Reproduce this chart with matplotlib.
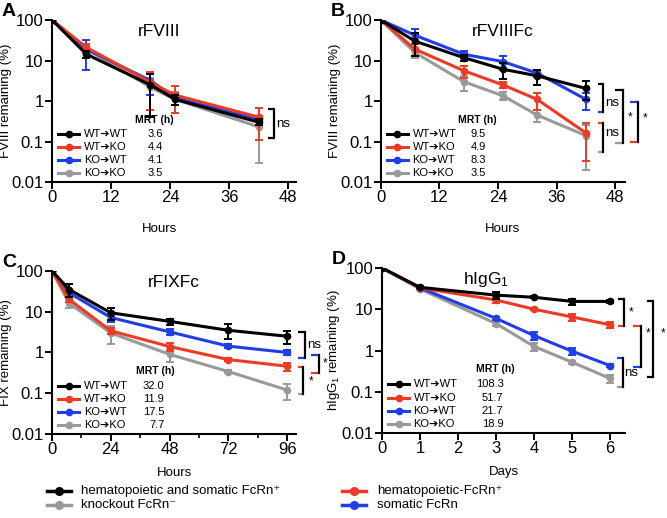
import numpy as np
import matplotlib
matplotlib.use("Agg")
import matplotlib.pyplot as plt
from matplotlib.ticker import FixedLocator, NullLocator

plt.rcParams['font.family'] = ['Liberation Sans', 'DejaVu Sans']
plt.rcParams['mathtext.fontset'] = 'custom'
plt.rcParams['mathtext.rm'] = 'Liberation Sans'
plt.rcParams['mathtext.it'] = 'Liberation Sans:italic'
plt.rcParams['mathtext.bf'] = 'Liberation Sans:bold'

BLACK = '#000000'
RED = '#ee3a24'
BLUE = '#1f3ee6'
GRAY = '#999999'

groups = ['WT\u2794WT', 'WT\u2794KO', 'KO\u2794WT', 'KO\u2794KO']
colors = [BLACK, RED, BLUE, GRAY]

# panel A - rFVIII
a_t = [0, 7, 20, 25, 42]
a_y = [[100, 14.3, 2.5, 1.1, 0.30],
       [100, 21, 2.9, 1.4, 0.40],
       [100, 19, 3.2, 1.2, 0.35],
       [100, 19, 2.2, 1.1, 0.23]]
a_sd = [[0, 3, 2.1, 0.3, 0.05],
        [0, 5, 2.3, 0.9, 0.29],
        [0, 13, 1.8, 0.4, 0.05],
        [0, 4, 1.6, 0.6, 0.2]]
a_mrt = ['3.6', '4.4', '4.1', '3.5']

# panel B - rFVIIIFc
b_t = [0, 7, 17, 25, 32, 42]
b_y = [[100, 30, 11.8, 6.1, 4.2, 2.05],
       [100, 19, 5.6, 2.5, 1.1, 0.163],
       [100, 42, 14.3, 9.4, 4.9, 1.1],
       [100, 15.7, 3.0, 1.35, 0.45, 0.14]]
b_sd = [[0, 17, 2, 2.5, 1.7, 1.0],
        [0, 6, 1.8, 0.4, 0.5, 0.13],
        [0, 17, 3, 3.5, 1, 0.5],
        [0, 4, 1.2, 0.3, 0.15, 0.12]]
b_mrt = ['9.5', '4.9', '8.3', '3.5']

# panel C - rFIXFc
c_t = [0, 7, 24, 48, 72, 96]
c_y = [[100, 35, 9.4, 5.8, 3.5, 2.5],
       [100, 20, 3.4, 1.4, 0.67, 0.46],
       [100, 29, 7.2, 3.2, 1.43, 1.0],
       [100, 16, 3.0, 0.9, 0.34, 0.12]]
c_sd = [[0, 12, 3, 1, 1.4, 0.9],
        [0, 3, 0.5, 0.3, 0.05, 0.1],
        [0, 5, 1.5, 0.5, 0.15, 0.15],
        [0, 4, 1.4, 0.3, 0.03, 0.05]]
c_mrt = ['32.0', '11.9', '17.5', '7.7']

# panel D - hIgG1
d_t = [0, 1, 3, 4, 5, 6]
d_y = [[100, 34, 22, 19.5, 15.5, 15.5],
       [100, 33, 16.8, 10, 6.5, 4.2],
       [100, 33, 6, 2.3, 0.96, 0.43],
       [100, 31, 4.5, 1.25, 0.52, 0.21]]
d_sd = [[0, 2, 4, 1, 2.5, 1],
        [0, 1, 3, 0.5, 1.3, 0.6],
        [0, 1, 0.6, 0.5, 0.2, 0.04],
        [0, 1, 0.5, 0.3, 0.05, 0.05]]
d_mrt = ['108.3', '51.7', '21.7', '18.9']

# significance brackets: x0, x1, y_top, y_bot, top colour, bottom colour, label, label x, label y
a_br = [(43.9, 45, 0.64, 0.12, BLACK, BLACK, 'ns', 45.6, 0.27)]
b_br = [(44.5, 45.5, 2.6, 0.53, BLACK, BLUE, 'ns', 46, 0.9),
        (44.5, 45.5, 0.29, 0.055, RED, GRAY, 'ns', 46, 0.16),
        (48.0, 49.6, 1.9, 0.092, BLACK, GRAY, '*', 50.5, 0.4),
        (51.0, 52.7, 0.94, 0.097, BLUE, RED, '*', 53.7, 0.38)]
c_br = [(100.5, 103.3, 3.2, 0.73, BLACK, BLUE, 'ns', 104.0, 1.5),
        (100.3, 102.6, 0.44, 0.095, RED, GRAY, '*', 105.0, 0.2),
        (105.8, 109.0, 0.87, 0.31, BLUE, RED, '*', 110.4, 0.55)]
d_br = [(6.2, 6.37, 17.7, 3.9, BLACK, RED, '*', 6.5, 8.6),
        (6.6, 6.8, 3.9, 0.4, RED, BLUE, '*', 6.93, 2.65),
        (6.17, 6.33, 0.66, 0.13, BLUE, GRAY, 'ns', 6.38, 0.28),
        (6.97, 7.13, 16, 0.23, BLACK, BLACK, '*', 7.32, 2.65)]


def bracket(ax, x0, x1, yt, yb, ct, cb, lab, lx, ly):
    ax.plot([x0, x1], [yt, yt], color=ct, lw=1.6, clip_on=False, solid_capstyle='butt')
    ax.plot([x0, x1], [yb, yb], color=cb, lw=1.6, clip_on=False, solid_capstyle='butt')
    ax.plot([x1, x1], [yt, yb], color=BLACK, lw=1.6, clip_on=False)
    ax.text(lx, ly, lab, fontsize=9.5 if lab == 'ns' else 8.5, ha='left', va='center')


def panel(rect, t, ys, sds, mrt, brs, title, xlim, xmaj, xmin, xlabel, ylabel,
          letter, title_x=0.5, xlab_x=0.5, xlab_y=-0.25, ylab_x=-0.162, val_x=0.46):
    ax = fig.add_axes(rect)
    for i in [3, 2, 1, 0]:
        y = np.array(ys[i], dtype=float)
        sd = np.array(sds[i], dtype=float)
        low = np.minimum(sd, y * 0.999)
        ax.errorbar(t, y, yerr=[low, sd], color=colors[i], lw=2.2, marker='o',
                    ms=4.5, capsize=3, elinewidth=1.4, capthick=1.4, zorder=3 + (3 - i))
    ax.set_yscale('log')
    ax.set_ylim(0.01, 100)
    ax.set_xlim(*xlim)
    ax.yaxis.set_major_locator(FixedLocator([0.01, 0.1, 1, 10, 100]))
    ax.set_yticklabels(['0.01', '0.1', '1', '10', '100'])
    ax.yaxis.set_minor_locator(NullLocator())
    ax.xaxis.set_major_locator(FixedLocator(xmaj))
    ax.set_xticklabels([str(v) for v in xmaj])
    if xmin:
        ax.xaxis.set_minor_locator(FixedLocator(xmin))
    for s in ['top', 'right']:
        ax.spines[s].set_visible(False)
    for s in ['left', 'bottom']:
        ax.spines[s].set_linewidth(1.5)
    ax.tick_params(which='major', length=5, width=1.4, labelsize=12, pad=1)
    ax.tick_params(which='minor', length=3, width=1.2)
    ax.set_xlabel(xlabel, fontsize=9.5)
    ax.xaxis.set_label_coords(xlab_x, xlab_y)
    ax.set_ylabel(ylabel, fontsize=9.5)
    ax.yaxis.set_label_coords(ylab_x, 0.5)
    ax.text(title_x, 0.93, title, transform=ax.transAxes, ha='center', va='center', fontsize=12.5)
    ax.text(-0.205, 1.05, letter, transform=ax.transAxes, ha='left', va='center',
            fontsize=14, fontweight='bold')

    # MRT table
    ax.text(val_x - 0.035, 0.385, 'MRT (h)', transform=ax.transAxes, ha='center', va='center',
            fontsize=7.5, fontweight='bold')
    rows = [0.295, 0.215, 0.135, 0.055]
    for i in range(4):
        ax.plot([0.025, 0.11], [rows[i], rows[i]], color=colors[i], lw=2.2,
                transform=ax.transAxes, clip_on=False, zorder=8)
        ax.plot([0.068], [rows[i]], color=colors[i], marker='o', ms=4.5,
                transform=ax.transAxes, clip_on=False, zorder=9)
        ax.text(0.13, rows[i], groups[i], transform=ax.transAxes, ha='left', va='center',
                fontsize=8)
        ax.text(val_x, rows[i], mrt[i], transform=ax.transAxes, ha='right', va='center',
                fontsize=8)

    for br in brs:
        bracket(ax, *br)
    return ax


fig = plt.figure(figsize=(6.67, 5.18), dpi=100)

panel([0.078, 0.6486, 0.366, 0.3127], a_t, a_y, a_sd, a_mrt, a_br, 'rFVIII',
      (0, 49.6), [0, 12, 24, 36, 48], None, 'Hours', 'FVIII remaining (%)', 'A',
      title_x=0.44, xlab_x=0.44, xlab_y=-0.25, val_x=0.455)
panel([0.571, 0.6486, 0.366, 0.3127], b_t, b_y, b_sd, b_mrt, b_br, 'rFVIIIFc',
      (0, 50), [0, 12, 24, 36, 48], None, 'Hours', 'FVIII remaining (%)', 'B',
      xlab_y=-0.25, val_x=0.43)
panel([0.078, 0.1622, 0.366, 0.3147], c_t, c_y, c_sd, c_mrt, c_br, 'rFIXFc',
      (0, 99.7), [0, 24, 48, 72, 96], [12, 36, 60, 84], 'Hours', 'FIX remaining (%)', 'C',
      xlab_y=-0.2, val_x=0.46)
panel([0.5727, 0.1641, 0.3643, 0.3185], d_t, d_y, d_sd, d_mrt, d_br, r'hIgG$_\mathregular{1}$',
      (0, 6.39), [0, 1, 2, 3, 4, 5, 6], None, 'Days', r'hIgG$_\mathregular{1}$ remaining (%)', 'D',
      title_x=0.43, xlab_y=-0.2, ylab_x=-0.165, val_x=0.5)

# bottom legend
leg_labels = ['hematopoietic and somatic FcRn\u207a', 'knockout FcRn\u207b',
              'hematopoietic-FcRn\u207a', 'somatic FcRn']
leg_colors = [BLACK, GRAY, RED, BLUE]
leg_x = [0.07, 0.07, 0.513, 0.513]
leg_y = [0.052, 0.025, 0.052, 0.025]
for lab, col, lx, ly in zip(leg_labels, leg_colors, leg_x, leg_y):
    fig.lines.append(plt.Line2D([lx, lx + 0.036], [ly, ly], color=col, lw=2.5,
                                transform=fig.transFigure))
    fig.lines.append(plt.Line2D([lx + 0.018], [ly], color=col, marker='o', ms=5.5,
                                transform=fig.transFigure))
    fig.text(lx + 0.052, ly, lab, ha='left', va='center', fontsize=9.5)

fig.savefig('out.png', dpi=100)
